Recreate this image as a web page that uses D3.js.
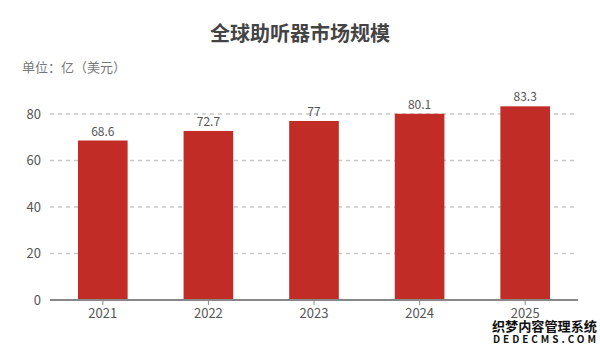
<!DOCTYPE html>
<html>
<head>
<meta charset="utf-8">
<script src="https://cdn.jsdelivr.net/npm/d3@7"></script>
<style>
  body { margin: 0; background: #fff; }
  svg text { font-family: "Noto Sans CJK SC", "Noto Sans", sans-serif; }
</style>
</head>
<body>
<div id="chart"></div>
<script>
const years = ["2021", "2022", "2023", "2024", "2025"];
const values = [68.6, 72.7, 77, 80.1, 83.3];
const yTicks = [0, 20, 40, 60, 80];

const width = 600, height = 353;
const margin = { left: 50, right: 22, top: 114, bottom: 53 };

const svg = d3.select("#chart").append("svg")
  .attr("width", width)
  .attr("height", height);

const x = d3.scaleBand()
  .domain(years)
  .range([margin.left, width - margin.right])
  .paddingInner(0.53)
  .paddingOuter(0.265);

const y = d3.scaleLinear()
  .domain([0, 80])
  .range([height - margin.bottom, margin.top]);

// title + unit
svg.append("text")
  .attr("x", 300).attr("y", 41)
  .attr("text-anchor", "middle")
  .attr("font-size", 20).attr("font-weight", "bold")
  .attr("fill", "#444")
  .text("全球助听器市场规模");

svg.append("text")
  .attr("x", 22).attr("y", 72)
  .attr("font-size", 13)
  .attr("fill", "#777")
  .text("单位：亿（美元）");

// grid lines
svg.append("g").selectAll("line")
  .data(yTicks.filter(d => d > 0))
  .join("line")
  .attr("x1", margin.left).attr("x2", width - margin.right)
  .attr("y1", d => y(d)).attr("y2", d => y(d))
  .attr("stroke", "#c8c8c8")
  .attr("stroke-width", 1.5)
  .attr("stroke-dasharray", "4,4");

// y labels
const leftAxis = d3.axisLeft(y).tickValues(yTicks).tickSize(0).tickPadding(9);
svg.append("g")
  .attr("transform", `translate(${margin.left},0)`)
  .call(leftAxis)
  .call(g => g.select(".domain").remove())
  .selectAll("text")
  .attr("font-size", 13)
  .attr("fill", "#555");

// bars
svg.append("g").selectAll("rect")
  .data(values)
  .join("rect")
  .attr("x", (d, i) => x(years[i]))
  .attr("y", d => y(d))
  .attr("width", x.bandwidth())
  .attr("height", d => y(0) - y(d))
  .attr("fill", "#c22c26");

svg.append("g").selectAll("text")
  .data(values)
  .join("text")
  .attr("x", (d, i) => x(years[i]) + x.bandwidth() / 2)
  .attr("y", d => y(d) - 5)
  .attr("text-anchor", "middle")
  .attr("font-size", 12)
  .attr("fill", "#555")
  .text(d => d);

// x axis
const bottomAxis = d3.axisBottom(x).tickSize(5).tickPadding(4);
svg.append("g")
  .attr("transform", `translate(0,${y(0)})`)
  .call(bottomAxis)
  .call(g => g.select(".domain").attr("stroke", "#888").attr("stroke-width", 2)
    .attr("d", `M${margin.left},0H${width - margin.right}`))
  .call(g => g.selectAll(".tick line").attr("stroke", "#888"))
  .selectAll("text")
  .attr("font-size", 13)
  .attr("fill", "#555");

// watermark
const wm = svg.append("g").attr("font-weight", "bold").attr("fill", "#111")
  .attr("stroke", "#fff").attr("stroke-width", 2.5).attr("paint-order", "stroke");
wm.append("text").attr("x", 492).attr("y", 331)
  .attr("font-size", 13).attr("textLength", 105).attr("lengthAdjust", "spacingAndGlyphs")
  .text("织梦内容管理系统");
wm.append("text").attr("x", 493).attr("y", 343)
  .attr("font-size", 10).attr("textLength", 103).attr("lengthAdjust", "spacing")
  .attr("font-family", "DejaVu Sans Mono, monospace").text("DEDECMS.COM");
</script>
</body>
</html>
